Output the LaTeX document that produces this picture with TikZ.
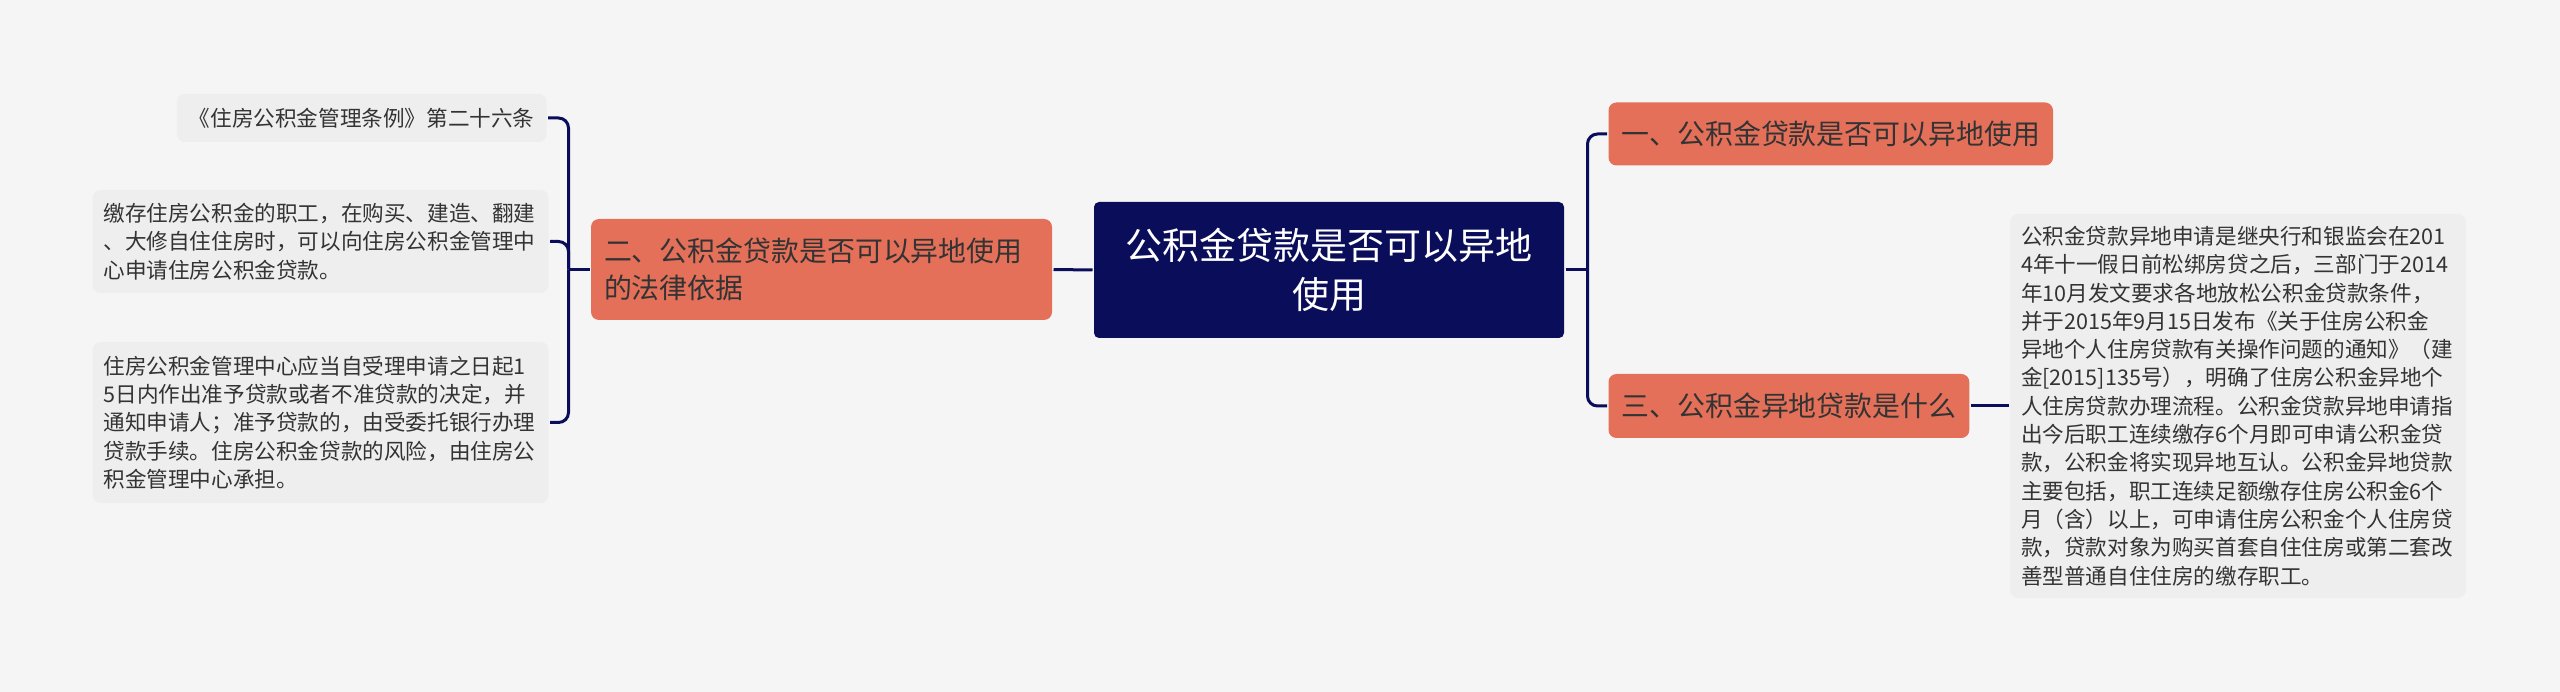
\documentclass[tikz,border=0pt]{standalone}
\usepackage{fontspec}
\setmainfont{Noto Sans CJK SC}

\definecolor{bgcol}{RGB}{245,245,245}
\definecolor{navy}{RGB}{10,14,90}
\definecolor{salmon}{RGB}{228,112,90}
\definecolor{leafcol}{RGB}{238,238,238}
\definecolor{inkcol}{RGB}{51,51,51}

\tikzset{every picture/.style={line width=3pt}}
\tikzset{
  rootbox/.style={draw=none,fill=navy,text=white,rounded corners=5pt,align=center,
    text width=440pt,minimum width=470pt,minimum height=136pt,inner sep=0pt,
    font=\fontsize{37}{49}\selectfont},
  branchbox/.style={draw=none,fill=salmon,text=inkcol,rounded corners=8pt,align=left,
    inner xsep=13pt,inner ysep=0pt,font=\fontsize{27.9}{37.6}\selectfont},
  leafbox/.style={draw=none,fill=leafcol,text=inkcol,rounded corners=8pt,align=left,
    inner xsep=11pt,inner ysep=0pt,font=\fontsize{21.6}{28.3}\selectfont},
  link/.style={draw=navy,line width=3pt,rounded corners=10pt}
}

\begin{document}
\begin{tikzpicture}[x=1pt,y=1pt,yscale=-1,xscale=1]
        %background
        \fill[bgcol] (0,0) rectangle (2560,692);

        %Root
        \node[rootbox] (root) at (1329,270) {公积金贷款是否可以异地\\使用};

        %Branches
        \node[branchbox,anchor=west,minimum height=63pt] (b1) at (1607,134) {一、公积金贷款是否可以异地使用};
        \node[branchbox,anchor=west,minimum height=64pt] (b3) at (1607,406) {三、公积金异地贷款是什么};
        \node[branchbox,text width=435pt,minimum height=101pt] (b2) at (821.5,269.5) {二、公积金贷款是否可以异地使用\\的法律依据};

        %Leaves
        \node[leafbox,anchor=east,minimum height=48pt,inner xsep=12pt] (l1) at (548,118) {《住房公积金管理条例》第二十六条};
        \node[leafbox,text width=434pt,minimum height=103pt] (l2) at (320.5,241.5) {缴存住房公积金的职工，在购买、建造、翻建\\、大修自住住房时，可以向住房公积金管理中\\心申请住房公积金贷款。};
        \node[leafbox,text width=434pt,minimum height=161pt] (l3) at (320.5,422.5) {住房公积金管理中心应当自受理申请之日起1\\5日内作出准予贷款或者不准贷款的决定，并\\通知申请人；准予贷款的，由受委托银行办理\\贷款手续。住房公积金贷款的风险，由住房公\\积金管理中心承担。};
        \node[leafbox,text width=434pt,minimum height=384pt] (r1) at (2238,406) {公积金贷款异地申请是继央行和银监会在201\\4年十一假日前松绑房贷之后，三部门于2014\\年10月发文要求各地放松公积金贷款条件，\\并于2015年9月15日发布《关于住房公积金\\异地个人住房贷款有关操作问题的通知》（建\\金[2015]135号），明确了住房公积金异地个\\人住房贷款办理流程。公积金贷款异地申请指\\出今后职工连续缴存6个月即可申请公积金贷\\款，公积金将实现异地互认。公积金异地贷款\\主要包括，职工连续足额缴存住房公积金6个\\月（含）以上，可申请住房公积金个人住房贷\\款，贷款对象为购买首套自住住房或第二套改\\善型普通自住住房的缴存职工。};

        %Junctions
        \path (b2.west) ++(-21,0) coordinate (jL);
        \path (root.east) ++(22,0) coordinate (jR);

        %Connectors
        \draw[link] (root.west) -- (b2.east);
        \draw[link] (b2.west) -- (jL);
        \draw[link] (l1.east) -| (jL);
        \draw[link] (l2.east) -| (jL);
        \draw[link] (l3.east) -| (jL);
        \draw[link] (root.east) -- (jR);
        \draw[link] (b1.west) -| (jR);
        \draw[link] (b3.west) -| (jR);
        \draw[link] (b3.east) -- (r1.west);

\end{tikzpicture}
\end{document}
